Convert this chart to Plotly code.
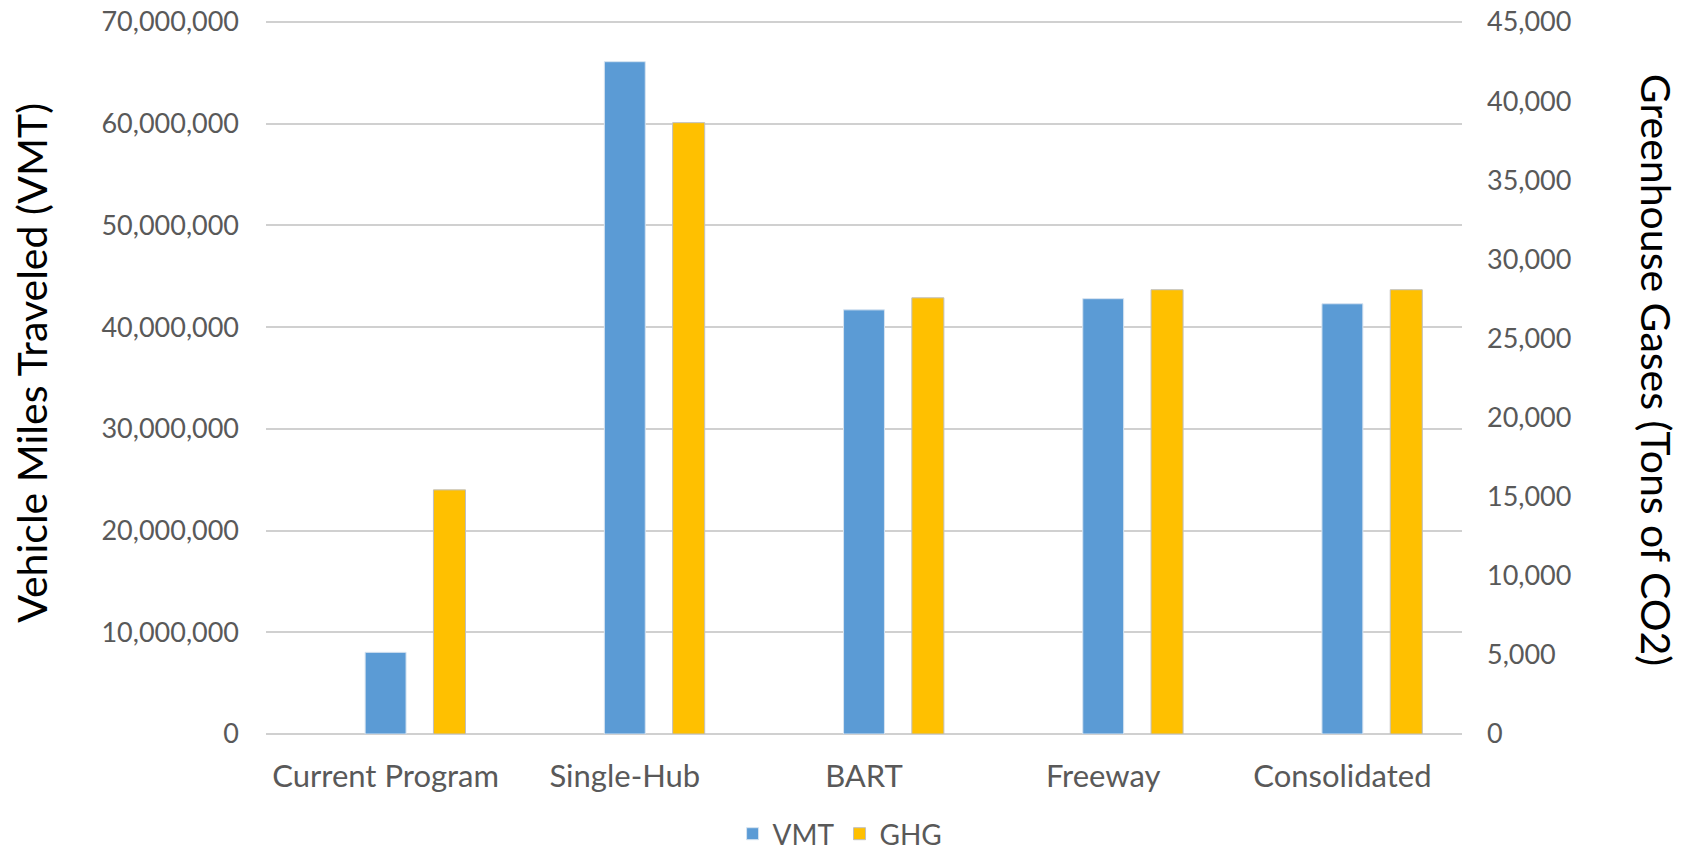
import plotly.graph_objects as go

categories = ["Current Program", "Single-Hub", "BART", "Freeway", "Consolidated"]
vmt = [8030000, 66100000, 41700000, 42800000, 42300000]
ghg = [15430, 38640, 27570, 28080, 28080]
vmt_ticks = [0, 10000000, 20000000, 30000000, 40000000, 50000000, 60000000, 70000000]
ghg_ticks = [0, 5000, 10000, 15000, 20000, 25000, 30000, 35000, 40000, 45000]

FONT = "Lato"
TICK_COLOR = "#595959"
GRID = "#d0d0d0"
W, H = 1682, 852
L, R, T, B = 266, 220, 20, 118
PLOT_W = W - L - R
PLOT_H = H - T - B
# small headroom so that the top gridline is drawn
VMT_MAX = 70200000
GHG_MAX = 45000 * VMT_MAX / 70000000

fig = go.Figure()
fig.add_trace(go.Bar(
    x=categories, y=vmt, name="VMT", yaxis="y",
    marker=dict(color="#5B9BD5", line=dict(color="#d6e3f0", width=1)),
    width=[0.171] * len(categories), offset=[-0.0855] * len(categories),
))
fig.add_trace(go.Bar(
    x=categories, y=ghg, name="GHG", yaxis="y2",
    marker=dict(color="#FFC000", line=dict(color="#bfbfbf", width=1)),
    width=[0.134] * len(categories), offset=[0.2] * len(categories),
))

fig.update_layout(
    width=W, height=H,
    margin=dict(l=L, r=R, t=T, b=B, autoexpand=False),
    paper_bgcolor="white", plot_bgcolor="white",
    barmode="overlay",
    font=dict(family=FONT, color=TICK_COLOR, size=27),
    xaxis=dict(
        type="category", range=[-0.5, 4.5], automargin=False,
        showgrid=False, showline=False, zeroline=False,
        tickfont=dict(family=FONT, size=31, color=TICK_COLOR),
        ticklabelstandoff=21,
    ),
    yaxis=dict(
        range=[0, VMT_MAX], tickvals=vmt_ticks, tickformat=",d",
        automargin=False, ticklabeloverflow="allow",
        showgrid=True, gridcolor=GRID, gridwidth=2,
        zeroline=True, zerolinecolor=GRID, zerolinewidth=2,
        showline=False,
        tickfont=dict(family=FONT, size=27, color=TICK_COLOR),
        ticklabelstandoff=26,
    ),
    yaxis2=dict(
        range=[0, GHG_MAX], tickvals=ghg_ticks, tickformat=",d",
        automargin=False, ticklabeloverflow="allow",
        overlaying="y", side="right", showgrid=False,
        zeroline=False, showline=False,
        tickfont=dict(family=FONT, size=27, color=TICK_COLOR),
        ticklabelstandoff=24,
    ),
    legend=dict(
        orientation="h", x=0.48, xanchor="center",
        y=-100 / PLOT_H, yanchor="middle",
        font=dict(family=FONT, size=28, color=TICK_COLOR),
        itemwidth=30, tracegroupgap=0,
    ),
    annotations=[
        dict(text="Vehicle Miles Traveled (VMT)", textangle=-90,
             xref="paper", yref="paper", x=(32 - L) / PLOT_W, y=0.52,
             xanchor="center", yanchor="middle", showarrow=False,
             font=dict(family=FONT, size=41, color="#000000")),
        dict(text="Greenhouse Gases (Tons of CO2)", textangle=90,
             xref="paper", yref="paper", x=(1656 - L) / PLOT_W, y=0.51,
             xanchor="center", yanchor="middle", showarrow=False,
             font=dict(family=FONT, size=41, color="#000000")),
    ],
)

fig.write_html(
    "out.html",
    config={"displayModeBar": False},
    post_script="document.body.style.margin='0px';",
)
